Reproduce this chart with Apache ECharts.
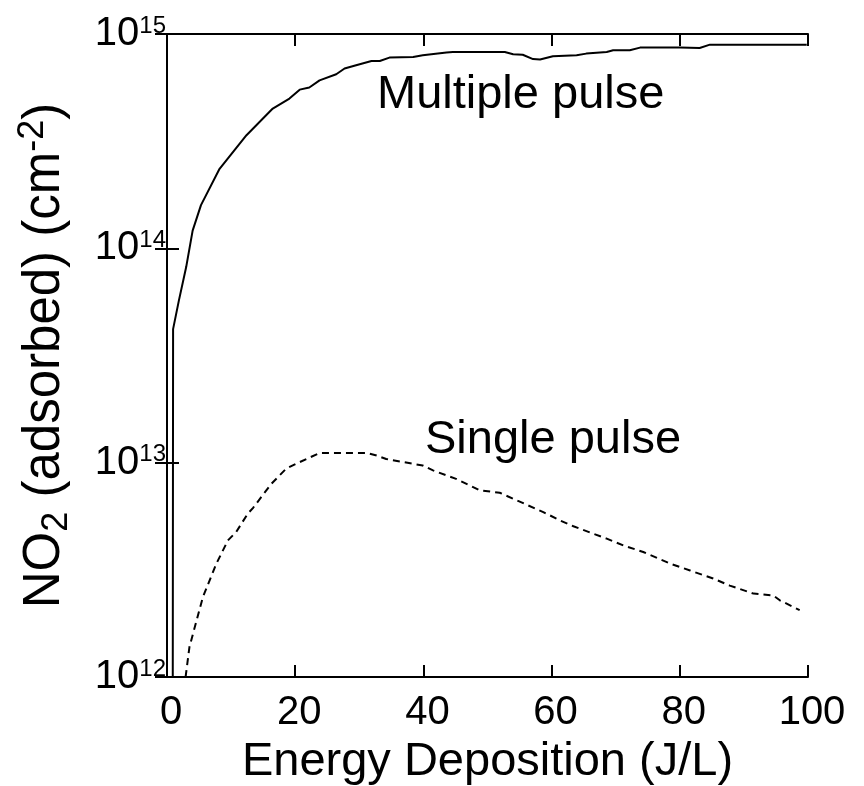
<!DOCTYPE html>
<html>
<head>
<meta charset="utf-8">
<script src="https://cdn.jsdelivr.net/npm/echarts@6/dist/echarts.min.js"></script>
<style>
html,body{margin:0;padding:0;background:#fff;}
#chart{width:864px;height:786px;}
</style>
</head>
<body>
<div id="chart"></div>
<script>
// X tick values
const xTicks = [0, 20, 40, 60, 80, 100];
// Multiple pulse series
const multiX = [0.9, 0.95, 1.85, 3.0, 4.0, 5.3, 8.2, 12.4, 16.5, 19.1, 20.7, 22.2, 23.8, 26.4, 27.7, 29.5, 31.9, 33.2, 34.7, 38.4, 39.9, 43.6, 44.6, 52.7, 54.0, 55.5, 57.1, 58.2, 60.2, 63.9, 65.4, 68.6, 69.6, 72.2, 73.8, 80.0, 83.1, 84.7, 99.8];
const multiY = [1e12, 4.2e13, 5.7e13, 8.2e13, 1.21e14, 1.59e14, 2.35e14, 3.37e14, 4.49e14, 5.0e14, 5.5e14, 5.63e14, 6.08e14, 6.49e14, 6.9e14, 7.15e14, 7.48e14, 7.48e14, 7.76e14, 7.82e14, 7.95e14, 8.19e14, 8.24e14, 8.24e14, 8.04e14, 8.0e14, 7.64e14, 7.6e14, 7.87e14, 7.95e14, 8.1e14, 8.24e14, 8.4e14, 8.4e14, 8.64e14, 8.64e14, 8.6e14, 8.92e14, 8.92e14];
// Single pulse series
const singleX = [2.9, 3.5, 5.6, 7.7, 9.5, 10.8, 12.6, 13.4, 16.3, 18.6, 20.2, 22.2, 23.8, 31.1, 32.7, 34.2, 39.9, 41.5, 45.1, 48.8, 51.9, 54.0, 58.7, 61.3, 63.4, 68.6, 71.2, 74.3, 78.5, 81.6, 85.2, 87.8, 91.5, 94.6, 95.6, 98.7];
const singleY = [1.0e12, 1.38e12, 2.36e12, 3.38e12, 4.34e12, 4.75e12, 5.78e12, 6.14e12, 7.98e12, 9.38e12, 9.9e12, 1.055e13, 1.11e13, 1.11e13, 1.08e13, 1.04e13, 9.7e12, 9.2e12, 8.4e12, 7.43e12, 7.24e12, 6.79e12, 5.88e12, 5.38e12, 5.05e12, 4.42e12, 4.11e12, 3.83e12, 3.38e12, 3.14e12, 2.88e12, 2.67e12, 2.45e12, 2.40e12, 2.28e12, 2.05e12];
// Y tick exponents
const yExponents = [12, 13, 14, 15];
const seriesNames = ['Multiple pulse', 'Single pulse'];

const FONT = 'Liberation Sans, Arial, Helvetica, sans-serif';
const multiData = multiX.map((x, i) => [x, multiY[i]]);
const singleData = singleX.map((x, i) => [x, singleY[i]]);

const chart = echarts.init(document.getElementById('chart'), null, {renderer: 'canvas'});

const axisLine = {show: true, lineStyle: {color: '#000', width: 2}};
const tick = {show: true, inside: true, length: 12, lineStyle: {color: '#000', width: 2}};

chart.setOption({
  animation: false,
  backgroundColor: '#fff',
  grid: {left: 167, right: 56, top: 34, bottom: 109, containLabel: false, outerBoundsMode: 'none'},
  xAxis: [{
    type: 'value', min: xTicks[0], max: xTicks[xTicks.length - 1], interval: 20,
    position: 'bottom',
    axisLine: axisLine, axisTick: tick, splitLine: {show: false},
    axisLabel: {color: '#000', fontSize: 40, fontFamily: FONT, margin: 16, padding: [0, 0, 0, 8]},
    name: 'Energy Deposition (J/L)', nameLocation: 'middle', nameGap: 62,
    nameTextStyle: {color: '#000', fontSize: 47, fontFamily: FONT}
  }, {
    type: 'value', min: 0, max: 100, interval: 20, position: 'top',
    axisLine: axisLine, axisTick: tick, splitLine: {show: false},
    axisLabel: {show: false}
  }],
  yAxis: [{
    type: 'log', logBase: 10, min: Math.pow(10, yExponents[0]), max: Math.pow(10, yExponents[yExponents.length - 1]),
    position: 'left',
    axisLine: axisLine, axisTick: tick, splitLine: {show: false}, minorTick: {show: false},
    axisLabel: {
      color: '#000', fontFamily: FONT, margin: 1,
      formatter: function (v) { return '{b|10}{s|' + Math.round(Math.log10(v)) + '}'; },
      rich: {
        b: {fontSize: 40, lineHeight: 40, fontFamily: FONT, color: '#000'},
        s: {fontSize: 24, lineHeight: 24, verticalAlign: 'top', fontFamily: FONT, color: '#000'}
      }
    },
    name: '{a|NO}{sub|2}{a| (adsorbed) (cm}{sup|-2}{a|)}',
    nameLocation: 'middle', nameRotate: 90, nameGap: 92,
    nameTextStyle: {
      color: '#000', fontFamily: FONT,
      rich: {
        a: {fontSize: 51, lineHeight: 60, fontFamily: FONT, color: '#000'},
        sub: {fontSize: 36, lineHeight: 36, verticalAlign: 'bottom', fontFamily: FONT, color: '#000'},
        sup: {fontSize: 36, lineHeight: 36, verticalAlign: 'top', fontFamily: FONT, color: '#000'}
      }
    }
  }, {
    type: 'log', logBase: 10, min: 1e12, max: 1e15, position: 'right',
    axisLine: axisLine, axisTick: tick, splitLine: {show: false},
    axisLabel: {show: false}
  }],
  series: [{
    name: seriesNames[0], type: 'line', data: multiData, showSymbol: false, symbol: 'none',
    lineStyle: {color: '#000', width: 2, type: 'solid'}, clip: true
  }, {
    name: seriesNames[1], type: 'line', data: singleData, showSymbol: false, symbol: 'none',
    lineStyle: {color: '#000', width: 2, type: [7, 5]}, clip: true
  }],
  graphic: [{
    type: 'text', left: 377, top: 72,
    style: {text: seriesNames[0], font: '47px ' + FONT, fill: '#000'}
  }, {
    type: 'text', left: 425, top: 417,
    style: {text: seriesNames[1], font: '47px ' + FONT, fill: '#000'}
  }]
});
</script>
</body>
</html>
